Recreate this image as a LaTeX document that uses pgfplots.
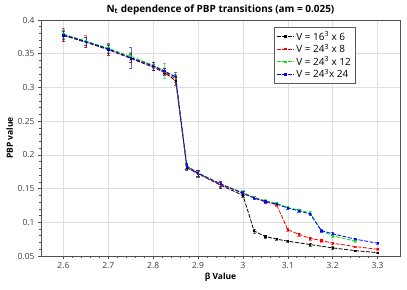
\documentclass[border=0pt]{standalone}
\usepackage{fontspec}
\setmainfont{Open Sans}
\usepackage{pgfplots}
\pgfplotsset{compat=1.18}
\definecolor{gridgray}{RGB}{222,222,222}
\definecolor{axgray}{RGB}{80,80,80}
\definecolor{mygreen}{RGB}{0,230,0}
\begin{document}
\begin{tikzpicture}
\useasboundingbox (-41bp,-34bp) rectangle (366bp,256bp);
\begin{axis}[
  scale only axis, width=359bp, height=236bp,
  xmin=2.55, xmax=3.35, ymin=0.05, ymax=0.4,
  xtick={2.6,2.7,2.8,2.9,3.0,3.1,3.2,3.3},
  xticklabels={2.6,2.7,2.8,2.9,3,3.1,3.2,3.3},
  ytick={0.05,0.1,0.15,0.2,0.25,0.3,0.35,0.4},
  yticklabels={0.05,0.1,0.15,0.2,0.25,0.3,0.35,0.4},
  minor x tick num=4, minor y tick num=4,
  xtick pos=bottom, ytick pos=left, tick align=outside,
  major tick length=3bp, minor tick length=2bp,
  grid=major, major grid style={gridgray, line width=0.6pt},
  axis line style={axgray, line width=0.8pt},
  every tick/.style={axgray, line width=0.6pt},
  tick label style={font=\fontsize{8.5}{9}\selectfont, text=black!75},
  /pgf/number format/assume math mode=true,
  title={\bfseries N\textsubscript{t} dependence of PBP transitions (am = 0.025)},
  title style={font=\fontsize{10}{11}\selectfont, yshift=-4bp},
  xlabel={\bfseries β Value}, ylabel={\bfseries PBP value},
  label style={font=\fontsize{8.5}{9}\selectfont},
  xlabel style={yshift=3bp}, ylabel style={yshift=-2bp},
  legend style={at={(0.875,0.97)}, anchor=north east, draw=black!65, line width=0.6pt,
    font=\fontsize{10}{11}\selectfont, row sep=-1.5bp, inner sep=2bp},
  legend cell align=left,
  every axis plot/.append style={line width=0.8pt, dash pattern=on 4bp off 1.5bp, mark=square*, mark size=0.6pt,
    mark options={solid}, error bars/y dir=both, error bars/y explicit,
    error bars/error bar style={solid, line width=0.4pt, opacity=0.6},
    error bars/error mark options={rotate=90, mark size=1.6pt, solid, line width=0.4pt, opacity=0.6}},
]
\addplot[black] table[x=b, y=v, y error=e] {
b v e
2.6 0.377 0.008
2.65 0.367 0.008
2.7 0.356 0.008
2.75 0.343 0.006
2.8 0.330 0.005
2.825 0.322 0.004
2.85 0.310 0.006
2.875 0.181 0.004
2.9 0.172 0.005
2.95 0.155 0.005
3.0 0.140 0.003
3.025 0.087 0.003
3.05 0.079 0.002
3.075 0.075 0.002
3.1 0.072 0.002
3.15 0.067 0.002
3.2 0.062 0.002
3.25 0.058 0.001
3.3 0.055 0.001
};
\addlegendentry{V = 16\textsuperscript{3} x 6}
\addplot[red] table[x=b, y=v, y error=e] {
b v e
2.6 0.378 0.010
2.65 0.368 0.009
2.7 0.357 0.009
2.75 0.344 0.007
2.8 0.331 0.006
2.825 0.323 0.005
2.85 0.313 0.005
2.875 0.182 0.004
2.9 0.172 0.004
2.95 0.156 0.004
3.0 0.143 0.003
3.025 0.136 0.002
3.05 0.130 0.002
3.075 0.126 0.002
3.1 0.089 0.002
3.125 0.082 0.002
3.15 0.076 0.002
3.175 0.073 0.002
3.2 0.069 0.002
3.25 0.064 0.001
3.3 0.060 0.001
};
\addlegendentry{V = 24\textsuperscript{3} x 8}
\addplot[mygreen] table[x=b, y=v, y error=e] {
b v e
2.6 0.379 0.006
2.65 0.369 0.006
2.7 0.358 0.006
2.75 0.346 0.006
2.8 0.333 0.005
2.825 0.325 0.011
2.85 0.315 0.005
2.875 0.184 0.004
2.9 0.173 0.004
2.95 0.157 0.004
3.0 0.144 0.003
3.025 0.137 0.002
3.05 0.132 0.002
3.075 0.128 0.002
3.1 0.122 0.002
3.125 0.118 0.002
3.15 0.114 0.002
3.175 0.087 0.002
3.2 0.080 0.002
3.25 0.072 0.001
};
\addlegendentry{V = 24\textsuperscript{3} x 12}
\addplot[blue] table[x=b, y=v, y error=e] {
b v e
2.6 0.378 0.006
2.65 0.368 0.006
2.7 0.357 0.006
2.75 0.344 0.015
2.8 0.332 0.006
2.825 0.324 0.005
2.85 0.316 0.006
2.875 0.183 0.004
2.9 0.173 0.004
2.95 0.157 0.004
3.0 0.143 0.003
3.025 0.136 0.002
3.05 0.131 0.002
3.075 0.127 0.002
3.1 0.121 0.002
3.125 0.117 0.002
3.15 0.112 0.002
3.175 0.0875 0.002
3.2 0.083 0.002
3.25 0.075 0.001
3.3 0.069 0.001
};
\addlegendentry{V = 24\textsuperscript{3}x 24}
\end{axis}
\end{tikzpicture}
\end{document}
